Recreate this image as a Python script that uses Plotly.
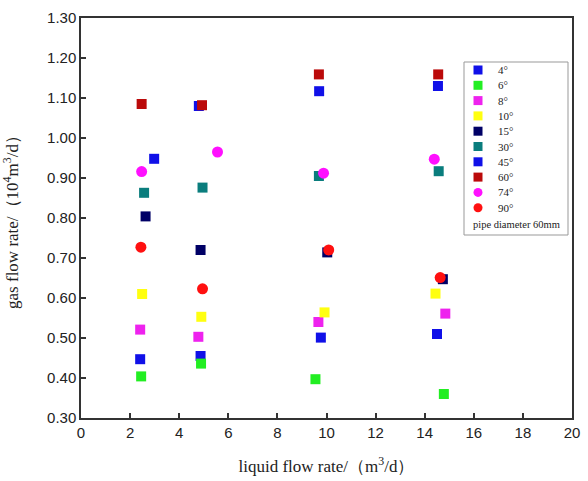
import plotly.graph_objects as go

names = ["4°", "6°", "8°", "10°", "15°", "30°", "45°", "60°", "74°", "90°"]
colors = ["#1010e8", "#22ee22", "#ee22ee", "#ffff10", "#000066", "#0a7d7d",
          "#1010e8", "#bb0a0a", "#ff10ff", "#ff1010"]
symbols = ["square"] * 8 + ["circle", "circle"]
note = "pipe diameter 60mm"

x_4 = [2.41, 4.87, 9.77, 14.50]
y_4 = [0.447, 0.455, 0.501, 0.510]
x_6 = [2.45, 4.89, 9.55, 14.78]
y_6 = [0.404, 0.436, 0.397, 0.360]
x_8 = [2.41, 4.78, 9.67, 14.84]
y_8 = [0.521, 0.503, 0.540, 0.561]
x_10 = [2.49, 4.90, 9.92, 14.44]
y_10 = [0.610, 0.553, 0.564, 0.611]
x_15 = [2.63, 4.87, 10.03, 14.74]
y_15 = [0.804, 0.720, 0.714, 0.647]
x_30 = [2.57, 4.95, 9.69, 14.57]
y_30 = [0.863, 0.876, 0.905, 0.917]
x_45 = [2.98, 4.80, 9.70, 14.54]
y_45 = [0.948, 1.080, 1.117, 1.130]
x_60 = [2.47, 4.93, 9.69, 14.55]
y_60 = [1.085, 1.082, 1.159, 1.159]
x_74 = [2.47, 5.56, 9.88, 14.39]
y_74 = [0.916, 0.965, 0.912, 0.947]
x_90 = [2.44, 4.95, 10.09, 14.63]
y_90 = [0.727, 0.623, 0.720, 0.651]

xs = [x_4, x_6, x_8, x_10, x_15, x_30, x_45, x_60, x_74, x_90]
ys = [y_4, y_6, y_8, y_10, y_15, y_30, y_45, y_60, y_74, y_90]

x_ticks = list(range(0, 21, 2))
y_ticks = [0.30, 0.40, 0.50, 0.60, 0.70, 0.80, 0.90, 1.00, 1.10, 1.20, 1.30]

W, H = 588, 481
ML, MR, MT, MB = 81, 16, 18, 63
PW, PH = W - ML - MR, H - MT - MB


def px(xp):
    return (xp - ML) / PW


def py(yp):
    return 1 - (yp - MT) / PH


serif = "Liberation Serif, Times New Roman, serif"
sans = "Liberation Sans, Arial, sans-serif"

fig = go.Figure()
for n, c, s, xv, yv in zip(names, colors, symbols, xs, ys):
    fig.add_trace(go.Scatter(
        x=xv, y=yv, mode="markers", name=n, showlegend=False,
        marker=dict(color=c, symbol=s, size=10 if s == "square" else 11,
                    line=dict(width=0)),
    ))

# hand-drawn legend box (layout only)
shapes = [dict(type="rect", xref="paper", yref="paper",
               x0=px(464), x1=px(568), y0=py(235), y1=py(62),
               line=dict(color="#999", width=1), fillcolor="white", layer="below")]
annotations = []
step = 15.3
for i, (n, c, s) in enumerate(zip(names, colors, symbols)):
    cy = 70 + i * step
    half = 4.5
    shapes.append(dict(type="rect" if s == "square" else "circle",
                       xref="paper", yref="paper",
                       x0=px(478 - half), x1=px(478 + half),
                       y0=py(cy + half), y1=py(cy - half),
                       line=dict(width=0), fillcolor=c))
    annotations.append(dict(text=n, xref="paper", yref="paper",
                            x=px(496), y=py(cy), xanchor="left", yanchor="middle",
                            showarrow=False,
                            font=dict(family=serif, size=11, color="#222")))
annotations.append(dict(text=note, xref="paper", yref="paper",
                        x=px(516), y=py(225), xanchor="center", yanchor="middle",
                        showarrow=False,
                        font=dict(family=serif, size=10.5, color="#222")))

fig.update_layout(
    width=W, height=H,
    margin=dict(l=ML, r=MR, t=MT, b=MB),
    paper_bgcolor="white", plot_bgcolor="white",
    showlegend=False,
    xaxis=dict(range=[0, 20], tickvals=x_ticks, ticktext=[str(v) for v in x_ticks],
               ticks="inside", ticklen=5, tickwidth=1.5, tickcolor="#333",
               showline=True, linecolor="#333", linewidth=1.5, mirror=True,
               showgrid=False, zeroline=False, automargin=False,
               tickfont=dict(family=sans, size=15, color="#222"),
               title=dict(text="liquid flow rate/（m<sup>3</sup>/d）",
                          font=dict(family=serif, size=17, color="#222"),
                          standoff=20)),
    yaxis=dict(range=[0.30, 1.30], tickvals=y_ticks,
               ticktext=[f"{v:.2f}" for v in y_ticks],
               ticks="inside", ticklen=5, tickwidth=1.5, tickcolor="#333",
               showline=True, linecolor="#333", linewidth=1.5, mirror=True,
               showgrid=False, zeroline=False, automargin=False,
               tickfont=dict(family=sans, size=15, color="#222"),
               title=dict(text="gas flow rate/（10<sup>4</sup>m<sup>3</sup>/d）",
                          font=dict(family=serif, size=17, color="#222"),
                          standoff=24)),
    shapes=shapes,
    annotations=annotations,
)

fig.write_html("out.html", config={"displayModeBar": False},
               post_script="document.body.style.margin='0px';")
